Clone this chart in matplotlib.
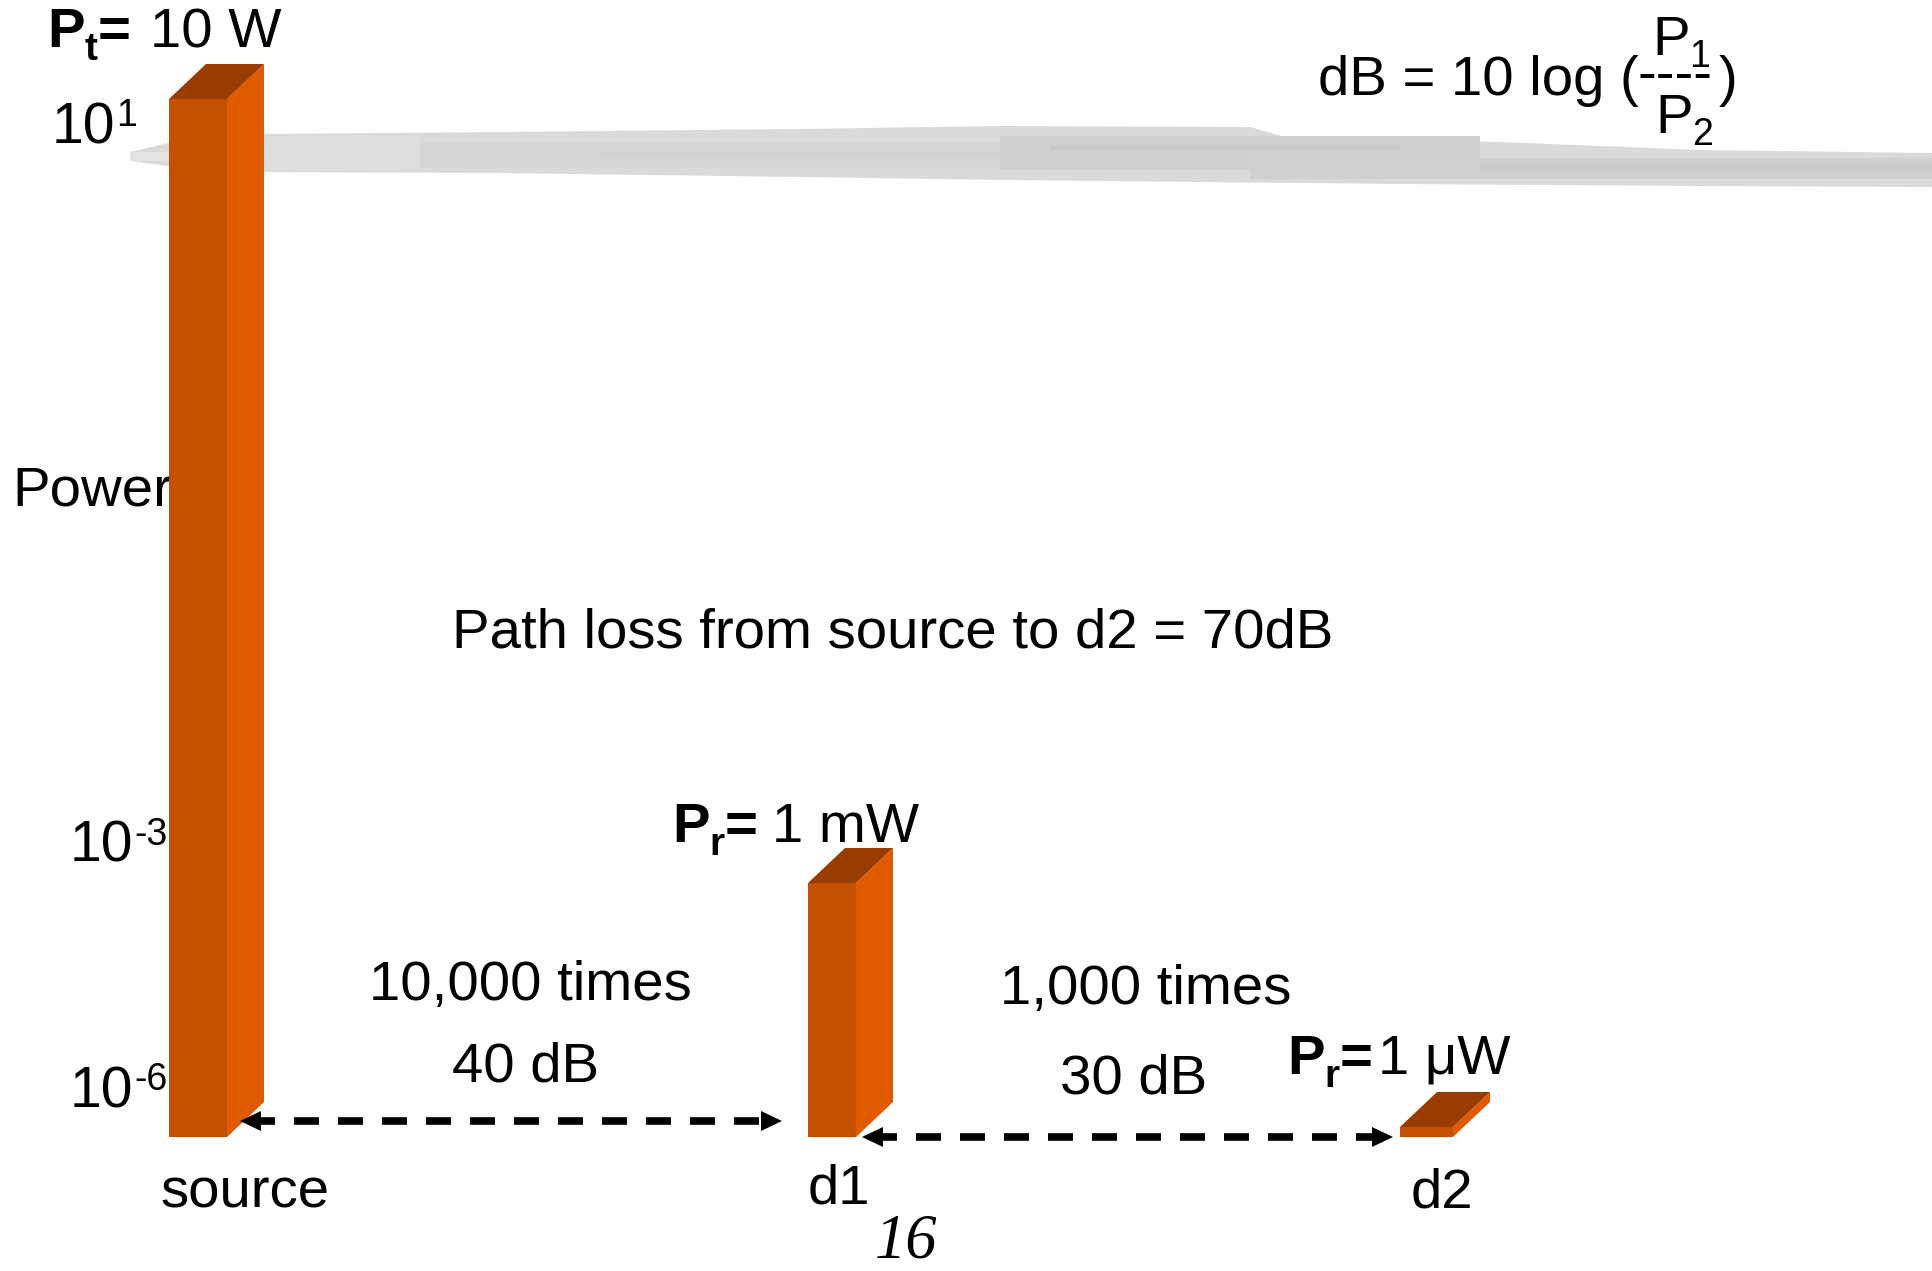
import numpy as np
import matplotlib
matplotlib.use("Agg")
import matplotlib.pyplot as plt
from matplotlib.patches import Polygon
from matplotlib.transforms import Affine2D

plt.rcParams['font.family'] = ['Liberation Sans', 'DejaVu Sans']

# power seen at each point along the path, in watts
points = ['source', 'd1', 'd2']
power_w = [10, 1e-3, 1e-6]
power_sub = ['t', 'r', 'r']      # P_t for the transmitter, P_r for receivers
axis_exp = [1, -3, -6]           # decades written on the power axis


def fmt_power(p):
    # 10 -> "10 W", 1e-3 -> "1 mW", 1e-6 -> "1 μW"
    for scale, pre in [(1, ''), (1e-3, 'm'), (1e-6, 'μ')]:
        if p >= scale * 0.999:
            return '%g %sW' % (round(p / scale, 6), pre)
    return '%g W' % p


W, H = 1932, 1271
fig = plt.figure(figsize=(W / 100, H / 100), dpi=100)
ax = fig.add_axes([0, 0, 1, 1])
ax.axis('off')

# the power axis is a sketch of a log axis: decades are not evenly spaced
lv_log = [-8, -6.5, -6, -3, 1, 2.5]
lv_px = [0, 134, 144, 388, 1172, 1271]


def fwd(v):
    v = np.clip(np.asarray(v, dtype=float), 1e-12, None)
    return np.interp(np.log10(v), lv_log, lv_px)


def inv(p):
    return 10 ** np.interp(p, lv_px, lv_log)


ax.set_yscale('function', functions=(fwd, inv))
ax.set_xlim(0, W)
ax.set_ylim(10 ** -8, 10 ** 2.5)
base = 10 ** -6.5

# pixel coordinates measured from the top left corner, for labels and decoration
pix = Affine2D().scale(1, -1).translate(0, H)
rend = fig.canvas.get_renderer()
FS = 40.6

# ---- grey brush stroke under the title area
band = [(130, 152), (168, 143), (264, 134), (500, 132), (800, 129), (1000, 126),
        (1250, 127), (1285, 137), (1500, 142), (1700, 150), (1932, 153),
        (1932, 187), (1700, 186), (1400, 184), (1200, 182), (1000, 180),
        (800, 177), (500, 173), (264, 172), (168, 166), (130, 161)]
ax.add_patch(Polygon(band, closed=True, transform=pix, color='#dadada', lw=0, zorder=1))
streaks = [(130, 200, 152, 161, '#e3e3e3'),
           (264, 420, 136, 171, '#dedede'),
           (420, 1000, 142, 168, '#d5d5d5'),
           (1000, 1480, 136, 170, '#cfcfcf'),
           (1250, 1932, 158, 179, '#d0d0d0'),
           (1480, 1932, 164, 171, '#cbcbcb'),
           (600, 1280, 152, 157, '#d0d0d0'),
           (1050, 1400, 145, 150, '#c8c8c8')]
for x0, x1, y0, y1, c in streaks:
    ax.add_patch(Polygon([(x0, y0), (x1, y0), (x1, y1), (x0, y1)], closed=True,
                         transform=pix, color=c, lw=0, zorder=1))

# ---- 3d looking bars
bar_left = [169, 808, 1400]
bar_w = [58, 48, 53]
dx, dy = 37, 35
front_c, side_c, top_c = '#c45000', '#e05a00', '#983c00'

ax.bar(bar_left, [p - base for p in power_w], width=bar_w, bottom=base,
       align='edge', color=front_c, linewidth=0, zorder=3)

for i, p in enumerate(power_w):
    xl = bar_left[i]
    xr = xl + bar_w[i]
    yt = H - ax.transData.transform((xl, p))[1]
    yb = H - ax.transData.transform((xl, base))[1]
    ax.add_patch(Polygon([(xr, yb), (xr, yt), (xr + dx, yt - dy), (xr + dx, yb - dy)],
                         closed=True, transform=pix, color=side_c, lw=0, zorder=3))
    ax.add_patch(Polygon([(xl, yt), (xr, yt), (xr + dx, yt - dy), (xl + dx, yt - dy)],
                         closed=True, transform=pix, color=top_c, lw=0, zorder=3))


def runs(x, y, parts, z=5):
    # lay text pieces left to right on one baseline: (text, size, bold, drop, gap after)
    for s, size, bold, drop, gap in parts:
        t = ax.text(x, y + drop, s, transform=pix, fontsize=size,
                    fontweight='bold' if bold else 'normal',
                    ha='left', va='baseline', zorder=z)
        x += t.get_window_extent(rend).width + gap


# ---- power axis
tick_pos = [(52, 143), (70, 862), (70, 1107)]
for e, (x, y) in zip(axis_exp, tick_pos):
    runs(x, y, [('10', 41, False, 0, 1), (str(e), 27, False, -17, 0)], z=2)
ax.text(12, 505, 'Power', transform=pix, fontsize=FS, ha='left', va='baseline', zorder=2)

# ---- power at each point
label_pos = [(47, 47), (672, 842), (1287, 1074)]
label_gap = [19, 14, 5]
for i, p in enumerate(power_w):
    x, y = label_pos[i]
    runs(x, y, [('P', FS, True, 0, 0), (power_sub[i], 28, True, 13, 0),
                ('=', FS, True, 0, label_gap[i]), (fmt_power(p), FS, False, 0, 0)])

# ---- loss between neighbouring points
times_pos = [(369, 1000), (1000, 1004)]
db_pos = [(452, 1082), (1060, 1093)]
for i in range(len(power_w) - 1):
    ratio = power_w[i] / power_w[i + 1]
    db = 10 * np.log10(ratio)
    ax.text(*times_pos[i], '{:,.0f} times'.format(ratio), transform=pix,
            fontsize=FS, ha='left', va='baseline', zorder=5)
    ax.text(*db_pos[i], '%.0f dB' % db, transform=pix,
            fontsize=FS, ha='left', va='baseline', zorder=5)

total_db = 10 * np.log10(power_w[0] / power_w[-1])
ax.text(452, 647, 'Path loss from source to d2 = %.0fdB' % total_db, transform=pix,
        fontsize=FS, ha='left', va='baseline', zorder=5)

# ---- dashed distance arrows along the floor
arrows = [(240, 782, 1121), (862, 1393, 1137)]
for x0, x1, y in arrows:
    ax.plot([x0 + 10, x1 - 10], [y, y], transform=pix, color='black', lw=5.5,
            dashes=(3.27, 2.49), dash_capstyle='butt', zorder=4)
    for tip, d in [(x0, 1), (x1, -1)]:
        ax.add_patch(Polygon([(tip, y), (tip + d * 21, y - 10), (tip + d * 21, y + 10)],
                             closed=True, transform=pix, color='black', lw=0, zorder=4))

# ---- point names and page number
name_pos = [(160, 1207), (808, 1203), (1411, 1207)]
for n, (x, y) in zip(points, name_pos):
    ax.text(x, y, n, transform=pix, fontsize=FS, ha='left', va='baseline', zorder=5)
ax.text(875, 1257, '16', transform=pix, fontsize=45, family='Liberation Serif',
        style='italic', ha='left', va='baseline', zorder=5)

# ---- dB definition in the corner
ax.text(1318, 95, 'dB = 10 log (', transform=pix, fontsize=FS, ha='left', va='baseline', zorder=5)
runs(1652, 55, [('P', FS, False, 0, 0), ('1', 27, False, 12, 0)])
ax.text(1638, 91, '----', transform=pix, fontsize=FS, ha='left', va='baseline', zorder=5)
runs(1655, 133, [('P', FS, False, 0, 0), ('2', 27, False, 12, 0)])
ax.text(1719, 95, ')', transform=pix, fontsize=FS, ha='left', va='baseline', zorder=5)

fig.savefig('out.png', dpi=100, facecolor='white')
